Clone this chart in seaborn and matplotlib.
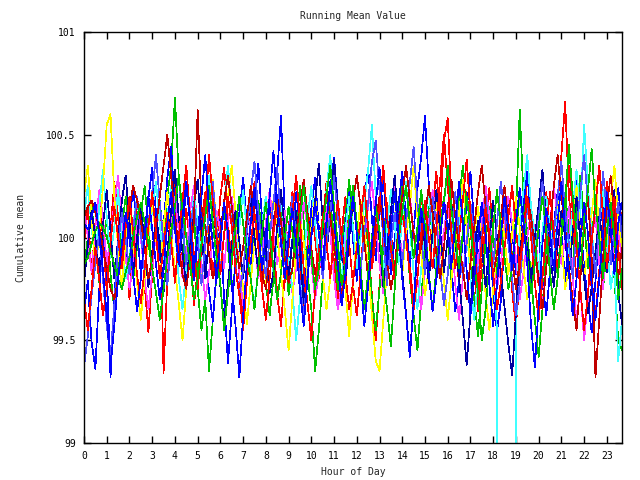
import numpy as np
import pandas as pd
import matplotlib
matplotlib.use("Agg")
import matplotlib.pyplot as plt
import seaborn as sns

# Running mean per run: run level plus deviation, both in hundredths above 100,
# sampled every 10 minutes
red_a = [5, 22, -10, 15, 30, 8, -18, 12, 35, 18, -5, 10,
         -22, 5, 28, 12, -15, -38, -10, 15, 25, -58, -12, 20,
         38, 10, -8, 22, 5, -25, -8, 15, 30, 12, -10, 5,
         28, 42, 15, -5, 18, -12, -30, -8, 20, 35, 10, -15,
         2, 25, 8, -20, -35, -10, 12, 30, 15, -8, -25, 5,
         22, 8, -12, 15, 35, 20, -5, -22, 10, 28, 5, -15,
         -30, -10, 18, 5, -20, -42, -15, 8, 25, 10, -8, 15,
         32, 12, -5, -25, 5, 28, 15, -10, 22, 40, 18, 55,
         66, 25, 5, -15, 10, 30, 12, -8, -28, -5, 15, 32,
         10, -12, 5, 25, 8, -18, -35, -12, 15, 38, 20, 2,
         -15, 8, 30, 12, -5, 20, 48, 74, 28, 10, -12, 5,
         25, 10, -18, -30, -8, 15, 35, 18, -5, 12, 20]
green_a = [-5, 10, 25, 8, -12, 5, 20, -8, -25, -5, 15, 30,
           12, -10, 5, 22, 35, 15, -5, 12, 28, 8, 30, 45,
           78, 40, 15, -10, 5, 25, -15, -35, -20, -55, -30, -8,
           10, 25, 5, -15, -5, 18, 32, 15, -8, 10, 28, 12,
           -12, -28, -10, 8, 22, 5, -18, -5, 15, 35, 18, -8,
           -25, -55, -35, -10, 12, 28, 10, -15, 5, 20, 38, 15,
           -5, 12, 30, 8, -20, -35, -15, 5, 22, 10, -8, 18,
           35, 12, -10, -28, -45, -20, 5, 25, 12, -5, 15, 30,
           10, -12, 8, 28, 45, 20, 0, -20, -38, -15, 8, 25,
           12, -8, 15, 30, 10, -5, 20, 72, 30, 12, -10, -30,
           -48, -25, 5, 20, 10, -8, 15, 32, 12, -5, 22, 40,
           18, -5, 10, 28, 8, -15, 5, 20, -10, -40, -45]
blue_a = [-30, -15, -45, -58, -20, 5, -10, -62, -25, 8, 20, -5,
          15, 30, 10, -12, 5, 25, 40, 18, -5, 12, 35, 50,
          20, -8, 10, 30, 15, -15, 5, 22, -5, -20, -35, -10,
          15, -25, -55, -30, -5, 18, 35, 12, -10, 20, 42, 15,
          -5, 25, 10, 38, 65, 15, -10, 5, 28, 12, -18, -5,
          20, 35, 10, -8, 15, 30, 45, 22, -5, 12, 28, 5,
          -15, 8, 25, 40, 15, -5, 20, 35, 10, -12, 5, 22,
          38, 15, -8, 10, 30, 45, 65, 32, 8, -15, 5, 25,
          10, -10, -30, -15, 5, 20, 38, 12, -8, 15, 30, 5,
          -20, -40, -25, 5, 25, 10, -12, 5, 22, 38, 15, -5,
          10, -15, -32, -10, 12, 28, 8, -15, 5, 20, 35, 12,
          -8, -25, -40, -15, 8, 25, 10, -5, 18, 30, 10]
magenta_a = [20, 5, -12, 10, 28, 15, -8, 5, 22, 35, 12, -5,
             -20, -8, 15, 5, -15, -30, -12, 8, 20, 5, -10, 12,
             25, 8, -15, -5, 18, 30, 10, -8, -25, -12, 5, 18,
             8, -10, 12, 25, 10, -12, -28, -8, 15, 5, -15, -5,
             12, 28, 10, -8, 5, 18, -5, -22, -10, 8, 22, 10,
             -8, -25, -12, 5, 20, 8, -15, -30, -18, 2, 15, 28,
             10, -10, 5, 20, 32, 12, -8, -22, -5, 15, 30, 12,
             -5, 10, 25, 8, -15, -30, -10, 12, 28, 15, -5, 8,
             22, 5, -18, -35, -15, 5, 20, 8, -10, 12, 30, 15,
             -5, -20, -8, 10, 25, 12, -5, -25, -12, 5, 18, 8,
             -12, -28, -10, 12, 30, 15, -8, 5, 20, -15, -35, -20,
             -45, -25, 5, 15, -8, -20, 5, 12, -10, 8, -5]
cyan_a = [15, 30, 10, -8, 20, 38, 15, -5, 10, 28, 5, -15,
          -5, 12, 25, 8, -12, 5, 18, 32, 12, -8, 15, 30,
          10, -15, -30, -10, 8, 25, 12, -5, 18, 35, 15, -8,
          5, 22, 40, 18, -5, 10, 28, 8, -15, -28, -10, 12,
          25, 8, -12, 5, 22, 10, -5, -20, -45, -25, -5, 15,
          30, 12, -8, 10, 28, 45, 20, 2, -15, 8, 25, 10,
          -10, 5, 22, 38, 60, 25, 5, -12, 10, 28, 12, -8,
          15, 32, 10, -12, -30, -10, 12, 28, 8, -10, 5, 22,
          38, 15, -5, 12, 30, 10, -15, -35, -15, 5, 20, 8,
          -10, -40, -1000, -1000, -1000, -1000, -43, 12, 28, 45, 20, 5,
          -12, 8, 25, 10, -8, 15, 32, 12, -5, 20, 38, 15,
          60, 30, 8, -10, 12, 28, 5, -20, -8, -55, -35]
yellow_a = [30, 45, 20, -5, 10, 35, 65, 70, 30, 5, -15, 10,
            25, 8, -12, -30, -10, 12, 28, 10, -8, 15, 32, 12,
            -5, -22, -40, -15, 8, 25, 10, -12, 5, 22, 38, 15,
            -5, 12, 30, 45, 22, 5, -15, -32, -12, 8, 20, 5,
            -12, 10, 28, 12, -8, -25, -45, -20, 5, 18, 8, -10,
            15, 30, 12, -8, -25, -10, 10, 25, 8, -15, -38, -12,
            10, 28, 15, -5, -28, -50, -55, -30, -5, 15, 30, 10,
            -8, 12, 25, 45, 20, 2, -18, -5, 15, 28, 10, -12,
            -30, -10, 8, 22, 38, 15, -5, 12, 25, 8, -18, -35,
            -15, 5, 22, 10, -8, 12, 30, 15, -5, -20, -8, 10,
            25, 40, 15, -5, 12, 28, 8, -15, -5, 15, 35, 12,
            -10, 5, 22, 38, 15, -5, 10, 28, 45, 20, 5]
navy_a = [-10, 8, 25, 12, -5, 18, 35, 15, -8, 10, 30, 42,
          20, -5, 12, 28, 8, -12, 5, 22, 10, -15, 5, 25,
          45, 22, 5, -12, 10, 28, 40, 15, -8, 12, 30, 10,
          -12, -30, -10, 8, 25, 10, -8, 15, 32, 12, -5, 20,
          8, -15, -5, 18, 35, 15, -8, 10, 25, 5, -20, -8,
          12, 30, 48, 20, 5, 22, 50, 25, 8, -10, 12, 30,
          15, -5, -22, -8, 12, 28, 10, -12, 5, 25, 42, 18,
          -5, -25, -45, -20, 5, 22, 8, -10, 15, 35, 15, -5,
          12, 28, 10, -8, -28, -50, -25, 5, 20, 8, -12, 10,
          30, 12, -5, -22, -40, -55, -25, 5, 18, 8, -10, 12,
          28, 45, 20, 5, -12, 8, 25, 12, -8, 15, 32, 10,
          -8, -25, -12, 5, 22, 10, -5, 18, 35, -15, -30]
slate_a = [-55, -40, -20, -5, 10, -12, -35, -50, -25, 5, 20, 8,
           -10, 12, 28, 10, -8, 15, 30, 48, 25, 5, -15, 5,
           22, 38, 15, -5, 12, 25, 8, -15, 5, 20, 35, 12,
           -8, 10, 28, 15, -5, -20, -8, 12, 30, 45, 20, 5,
           -12, 8, 25, 42, 15, -5, 10, 28, 8, -15, -30, -10,
           8, 22, 10, -12, 5, 20, 38, 18, 5, -10, 15, 30,
           12, -8, 10, 25, 45, 55, 30, 8, -15, 5, 20, 10,
           -5, 15, 35, 52, 25, 8, -10, 12, 28, 15, -8, -25,
           -10, 12, 30, 10, -12, 5, 25, 8, -15, 10, 28, 12,
           -5, 15, 35, 20, 5, -12, -30, -15, 8, 22, 12, -5,
           18, 35, 15, -8, 10, 28, 45, 20, 5, -12, 12, 30,
           48, 25, 8, -10, 15, 40, 20, -5, 12, 25, 8]
darkred_a = [10, 15, 18, 12, 5, -5, -15, -25, -30, -20, -8, 5,
             15, 25, 18, 8, -5, -20, -10, 5, 20, 35, 50, 30,
             10, -5, -18, -25, -10, 8, 62, 15, 5, -8, -20, -12,
             2, 18, 30, 15, -2, -15, -5, 10, 25, 12, -5, -18,
             -25, -10, 5, 20, 8, -10, -22, -15, 0, 15, 28, 12,
             -5, -18, -8, 10, 22, 10, -5, -15, -28, -12, 5, 18,
             30, 15, -2, -20, -10, 8, 20, 5, -12, -25, -15, 5,
             20, 35, 18, 2, -12, -5, 10, 25, 12, -8, -20, -5,
             15, 28, 10, -5, -15, -30, -12, 5, 22, 35, 15, -2,
             -18, -8, 10, 25, 8, -10, -25, -12, 5, 20, 10, -5,
             -20, -35, -15, 5, 25, 40, 20, 5, -15, -30, -45, -20,
             5, 20, -10, -68, -40, -10, 15, 30, 10, -20, -5]
red_b = [-20, -35, -15, 5, -10, -28, -15, 8, 25, 10, -5, 15,
         30, 12, -8, -22, -5, 15, 32, 12, -10, 5, 22, 8,
         -12, 10, 28, 45, 20, 2, -15, 5, 25, 50, 28, 10,
         -8, 12, 30, 15, -5, -18, -35, -12, 8, 22, 5, -15,
         -30, -10, 12, 25, 8, -12, 5, 22, 40, 18, -5, -22,
         -40, -15, 5, 20, 8, -10, 12, 28, 10, -8, -25, -12,
         5, 18, 35, 15, -5, 10, 25, 45, 20, 5, -12, 8,
         22, 10, -8, -25, -10, 12, 28, 10, -5, 15, 38, 60,
         35, 12, -5, 10, 28, 48, 22, 5, -15, 8, 25, 12,
         -8, -25, -12, 5, 20, 35, 15, -5, 12, 30, 10, -12,
         -30, -10, 15, 32, 12, -5, 10, 28, 45, 22, 5, -15,
         -35, -18, 8, 25, 45, 20, -5, 12, 30, 5, -15]
green_b = [-8, -5, 2, 8, 12, 10, 5, -2, -8, -15, -20, -12,
           -5, 5, 15, 22, 12, 2, -10, -22, -35, -20, -5, 8,
           20, 35, 18, 5, -8, -25, -15, 2, 15, 30, 12, -5,
           -18, -40, -22, -5, 10, 25, 12, -5, -15, -30, -10, 8,
           22, 8, -10, -25, -12, 5, 20, 8, -5, 15, 30, 12,
           -5, -20, -10, 10, 25, 40, 20, 2, -18, -8, 15, 30,
           12, -10, -30, -12, 5, 20, 8, -15, -30, -48, -20, 5,
           18, 30, 12, -5, 10, 28, 10, -12, -30, -10, 8, 22,
           40, 18, 5, -10, 8, 25, 10, -8, -22, -45, -30, -8,
           10, 28, 12, -5, -20, -10, 8, 25, 15, -5, -22, -8,
           10, 25, 8, -12, -30, -15, 5, 22, 50, 25, 8, -10,
           12, 28, 48, 20, 5, -15, 8, 22, 5, -25, -10]
blue_b = [15, 12, 18, 25, 10, -8, -30, -55, -35, -12, 5, 20,
          8, -10, -28, -12, 10, 28, 12, -5, -22, -8, 15, 30,
          12, -5, 18, 35, 15, -8, 10, 28, 48, 22, 5, -12,
          5, 25, 10, -15, -35, -60, -30, -5, 15, 32, 12, -8,
          10, 28, 50, 25, 5, -12, 8, 22, 5, -18, -35, -12,
          8, 25, 10, -8, 15, 35, 18, -5, -25, -10, 12, 28,
          10, -12, -35, -15, 5, 25, 42, 18, -5, 12, 30, 10,
          -12, -30, -50, -25, 5, 22, 10, -10, -28, -12, 8, 25,
          12, -5, 15, 35, 15, -8, -30, -12, 8, 25, 10, -15,
          -35, -15, 8, 28, 12, -8, 15, 32, 15, -5, -35, -55,
          -25, 5, 22, 10, -8, 15, 35, 12, -10, -30, -12, 8,
          25, 10, -15, -32, -12, 10, 30, 12, -10, 15, 25]

runs = {
    "red_a": red_a, "green_a": green_a, "blue_a": blue_a, "magenta_a": magenta_a,
    "cyan_a": cyan_a, "yellow_a": yellow_a, "navy_a": navy_a, "slate_a": slate_a,
    "darkred_a": darkred_a, "red_b": red_b, "green_b": green_b, "blue_b": blue_b,
}
run_level = {
    "red_a": -8, "green_a": -10, "blue_a": -6, "magenta_a": -5,
    "cyan_a": -5, "yellow_a": -10, "navy_a": -12, "slate_a": -8,
    "darkred_a": 0, "red_b": -10, "green_b": -5, "blue_b": -8,
}
run_colors = {
    "red_a": "#ff0000", "green_a": "#00c000", "blue_a": "#0000ff", "magenta_a": "#ff40ff",
    "cyan_a": "#40ffff", "yellow_a": "#ffff00", "navy_a": "#0000a0", "slate_a": "#5050ff",
    "darkred_a": "#c00000", "red_b": "#ff0000", "green_b": "#00c000", "blue_b": "#0000ff",
}
hour_ticks = list(range(24))
y_ticks = [99, 99.5, 100, 100.5, 101]
y_tick_labels = ["99", "99.5", "100", "100.5", "101"]

frames = []
for name, vals in runs.items():
    v = np.asarray(vals, dtype=float) + run_level[name]
    hours = np.arange(len(v)) / 6.0
    frames.append(pd.DataFrame({"hour": hours, "mean": 100 + v / 100.0, "run": name}))
df = pd.concat(frames, ignore_index=True)

sns.set_style("ticks")
plt.rcParams["font.family"] = ["DejaVu Sans Mono"]

fig = plt.figure(figsize=(6.4, 4.8), dpi=100)
ax = fig.add_axes([84 / 640, 1 - 443 / 480, (622 - 84) / 640, (443 - 32) / 480])

sns.lineplot(data=df, x="hour", y="mean", hue="run", hue_order=list(runs),
             palette=run_colors, estimator=None, errorbar=None, sort=False,
             legend=False, linewidth=0.5, ax=ax)
for ln in ax.lines:
    ln.set_antialiased(False)

ax.set_xlim(0, 142 / 6.0)
ax.set_ylim(99, 101)
ax.set_xticks(hour_ticks)
ax.set_xticklabels([str(h) for h in hour_ticks])
ax.set_yticks(y_ticks)
ax.set_yticklabels(y_tick_labels)
ax.tick_params(axis="both", direction="in", length=5, width=1, labelsize=7,
               top=True, right=True, color="black", labelcolor="black")
ax.tick_params(axis="x", pad=6)
ax.tick_params(axis="y", pad=6)
for sp in ax.spines.values():
    sp.set_color("black")
    sp.set_linewidth(1)
    sp.set_visible(True)

ax.set_title("Running Mean Value", fontsize=7, pad=9.5)
ax.set_xlabel("Hour of Day", fontsize=7)
ax.set_ylabel("Cumulative mean", fontsize=7)
ax.xaxis.set_label_coords(0.5, -0.058)
ax.yaxis.set_label_coords(-0.108, 0.5)

fig.savefig("out.png", dpi=100)
